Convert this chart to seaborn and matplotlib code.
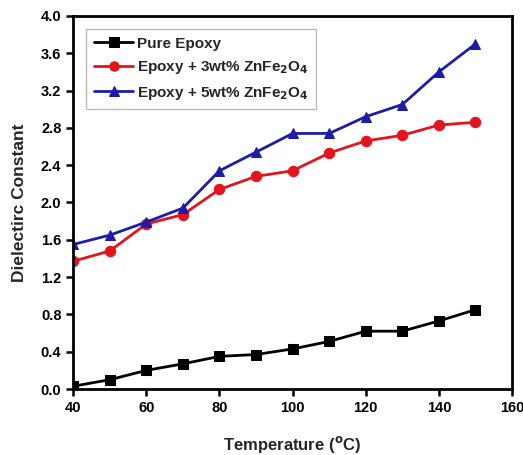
import matplotlib
matplotlib.use("Agg")
import matplotlib.pyplot as plt
import seaborn as sns
import pandas as pd

temps = [40, 50, 60, 70, 80, 90, 100, 110, 120, 130, 140, 150]
pure = [0.03, 0.10, 0.20, 0.27, 0.35, 0.37, 0.43, 0.51, 0.62, 0.62, 0.73, 0.85]
wt3 = [1.37, 1.48, 1.77, 1.87, 2.14, 2.28, 2.34, 2.53, 2.66, 2.72, 2.83, 2.86]
wt5 = [1.55, 1.65, 1.79, 1.94, 2.34, 2.54, 2.74, 2.74, 2.92, 3.05, 3.40, 3.70]
labels = ["Pure Epoxy", "Epoxy + 3wt% ZnFe$_2$O$_4$", "Epoxy + 5wt% ZnFe$_2$O$_4$"]
colors = ["black", "#e3141c", "#1c1ca8"]
markers = ["s", "o", "^"]

sns.set_theme(style="ticks")
plt.rcParams['font.family'] = ['Liberation Sans', 'DejaVu Sans']
plt.rcParams['font.weight'] = 'bold'
plt.rcParams['mathtext.default'] = 'bf'

df = pd.DataFrame({"Temperature": temps * 3,
                   "value": pure + wt3 + wt5,
                   "series": [labels[0]] * 12 + [labels[1]] * 12 + [labels[2]] * 12})

fig = plt.figure(figsize=(5.23, 4.55), dpi=100)
ax = fig.add_axes([0.14, 0.145, 0.839, 0.82])
for lab, c, m in zip(labels, colors, markers):
    sub = df[df.series == lab]
    sns.lineplot(data=sub, x="Temperature", y="value", ax=ax, color=c, marker=m,
                 markersize=7.5, markeredgecolor=c, linewidth=2, label=lab)

ax.set_xlim(40, 160)
ax.set_ylim(0, 4.0)
ax.set_xticks([40, 60, 80, 100, 120, 140, 160])
ax.set_yticks([0.0, 0.4, 0.8, 1.2, 1.6, 2.0, 2.4, 2.8, 3.2, 3.6, 4.0])
ax.set_yticklabels([f"{v:.1f}" for v in ax.get_yticks()])
for s in ax.spines.values():
    s.set_linewidth(2)
    s.set_color("black")
ax.tick_params(axis='both', direction='out', width=1.8, length=5, labelsize=10.5, colors='black')
for t in ax.get_xticklabels() + ax.get_yticklabels():
    t.set_fontweight('bold')
ax.set_xlabel("Temperature ($^{o}$C)", fontsize=12, fontweight='bold', labelpad=14)
ax.set_ylabel("Dielectirc Constant", fontsize=12.5, fontweight='bold', labelpad=10)
leg = ax.legend(loc='upper left', fontsize=11, frameon=True, fancybox=False,
                edgecolor='#aaaaaa', borderpad=0.5, handlelength=2.6, handletextpad=0.2,
                labelspacing=0.55, markerscale=0.9, bbox_to_anchor=(0.012, 0.985))
leg.get_frame().set_linewidth(1.0)
for t in leg.get_texts():
    t.set_fontweight('bold')
fig.savefig("out.png", dpi=100)
